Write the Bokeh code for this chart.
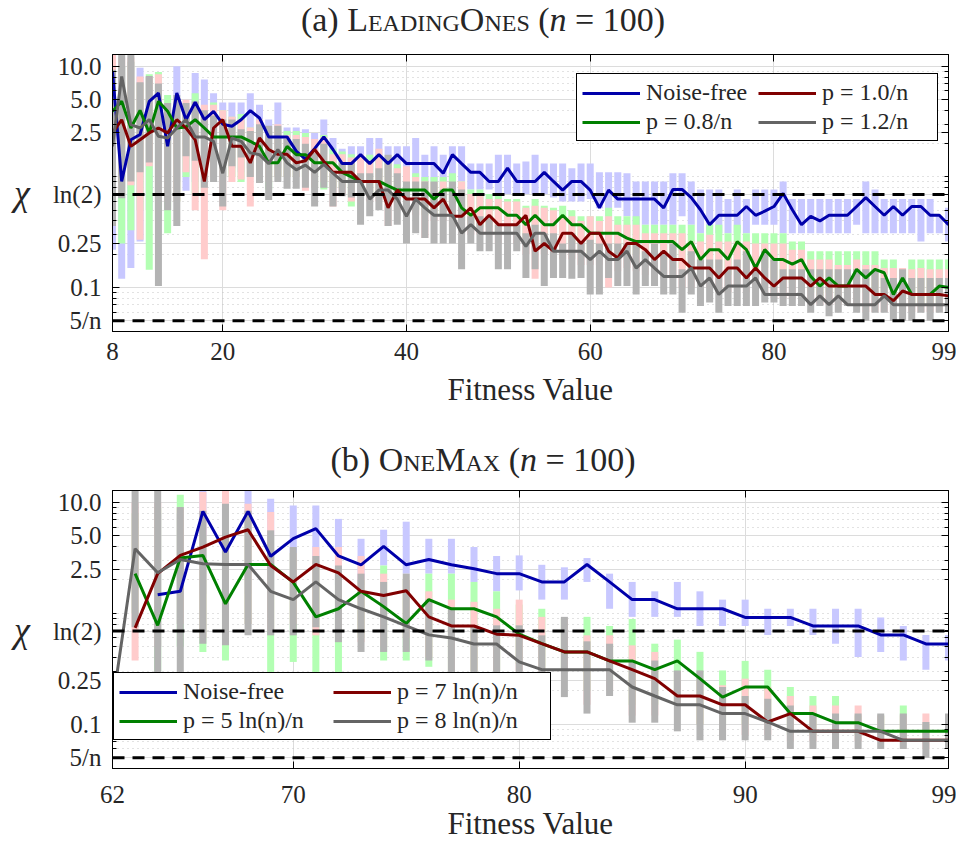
import math
from bokeh.plotting import figure
from bokeh.models import (FixedTicker, Range1d, Span, Legend, LegendItem, Div,
                          LogAxis, LinearAxis, CustomJSTickFormatter)
from bokeh.layouts import column
from bokeh.embed import file_html
from bokeh.resources import INLINE

FONT = "Liberation Serif"
TXT = "#262626"
NAN = float("nan")

# ---------------- shared y axis ----------------
Y_TICKS = [0.05, 0.1, 0.25, math.log(2), 2.5, 5.0, 10.0]
Y_TICK_LABELS = ["5/n", "0.1", "0.25", "ln(2)", "2.5", "5.0", "10.0"]
Y_MINOR = [0.06, 0.07, 0.08, 0.09, 0.2, 0.3, 0.4, 0.5, 0.6, 0.7, 0.8, 0.9,
           1, 2, 3, 4, 6, 7, 8, 9]

# ---------------- panel (a) LeadingOnes ----------------
fit_a = list(range(8, 100))
a_ticks = [8, 20, 40, 60, 80, 99]
a_labels = ["Noise-free", "p = 0.8/n", "p = 1.0/n", "p = 1.2/n"]

a_free = [9.0, 0.91,
          2.17, 2.42, 4.83, 5.74, 1.89, 5.74, 3.29, 4.73, 3.3, 3.92,
          3.0, 2.87, 3.29, 3.98, 3.41, 2.3, 2.3, 2.3, 1.71, 1.45,
          1.8, 2.3, 1.77, 1.32, 1.32, 1.59, 1.32, 1.59, 1.32, 1.59,
          1.32, 1.32, 1.32, 1.32, 1.08, 1.59, 1.32, 1.10, 1.10, 0.91,
          0.91, 1.2, 0.91, 0.91, 0.91, 1.10, 0.91, 0.76, 0.91, 0.91,
          0.76, 0.525, 0.76, 0.63, 0.63, 0.63, 0.63, 0.63, 0.525, 0.77,
          0.77, 0.65, 0.505, 0.37, 0.45, 0.45, 0.45, 0.54, 0.45, 0.49,
          0.54, 0.71, 0.505, 0.37, 0.44, 0.40, 0.45, 0.45, 0.45, 0.54,
          0.65, 0.54, 0.45, 0.54, 0.45, 0.54, 0.54, 0.45, 0.45, 0.37]
a_p08 = [3.92, 4.83,
         2.77, 4.0, 2.5, 4.83, 3.92, 2.77, 2.83, 3.3, 2.77, 2.3,
         2.3, 2.3, 2.3, 2.1, 1.89, 1.34, 1.34, 1.89, 1.59, 1.59,
         1.34, 1.34, 1.34, 1.10, 1.0, 0.91, 0.91, 0.91, 0.83, 0.76,
         0.76, 0.76, 0.76, 0.63, 0.76, 0.76, 0.525, 0.45, 0.525, 0.525,
         0.525, 0.45, 0.45, 0.37, 0.45, 0.37, 0.37, 0.45, 0.37, 0.37,
         0.31, 0.31, 0.31, 0.31, 0.28, 0.26, 0.26, 0.26, 0.26, 0.26,
         0.22, 0.26, 0.179, 0.22, 0.22, 0.179, 0.26, 0.22, 0.15, 0.22,
         0.179, 0.179, 0.163, 0.179, 0.126, 0.103, 0.122, 0.103, 0.103, 0.146,
         0.122, 0.146, 0.136, 0.0865, 0.122, 0.0865, 0.0865, 0.0865, 0.103, 0.1]
a_p10 = [2.5, 3.29,
         1.89, 2.17, 2.5, 2.77, 2.5, 3.29, 2.77, 2.17, 0.91, 2.77,
         3.29, 1.89, 1.89, 1.34, 2.25, 1.77, 1.6, 1.6, 1.34, 1.4,
         1.77, 1.38, 1.1, 1.1, 1.1, 0.91, 0.91, 0.91, 0.525, 0.76,
         0.63, 0.63, 0.63, 0.525, 0.63, 0.44, 0.44, 0.525, 0.37, 0.45,
         0.37, 0.37, 0.37, 0.45, 0.213, 0.25, 0.213, 0.31, 0.31, 0.25,
         0.31, 0.31, 0.213, 0.185, 0.25, 0.25, 0.22, 0.179, 0.213, 0.179,
         0.179, 0.15, 0.15, 0.15, 0.122, 0.15, 0.15, 0.122, 0.15, 0.122,
         0.103, 0.122, 0.122, 0.122, 0.103, 0.122, 0.103, 0.103, 0.103, 0.103,
         0.103, 0.0865, 0.0865, 0.076, 0.093, 0.0865, 0.0865, 0.0865, 0.0865, 0.084]
a_p12 = [1.89, 8.1,
         2.97, 2.77, 3.3, 2.33, 2.25, 2.77, 3.3, 2.3, 2.3, 2.1,
         1.08, 2.25, 2.1, 1.65, 1.59, 1.32, 1.77, 1.34, 1.16, 1.28,
         1.1, 1.30, 1.08, 0.91, 0.91, 0.91, 0.63, 0.76, 0.76, 0.63,
         0.44, 0.63, 0.525, 0.45, 0.45, 0.45, 0.31, 0.37, 0.31, 0.31,
         0.31, 0.31, 0.31, 0.236, 0.31, 0.31, 0.213, 0.213, 0.213, 0.213,
         0.179, 0.213, 0.179, 0.179, 0.213, 0.15, 0.179, 0.15, 0.126, 0.126,
         0.126, 0.15, 0.103, 0.122, 0.0865, 0.103, 0.103, 0.103, 0.122, 0.0865,
         0.0865, 0.0865, 0.0865, 0.0865, 0.070, 0.084, 0.070, 0.084, 0.070, 0.070,
         0.070, 0.070, 0.084, 0.070, 0.070, 0.070, 0.070, 0.070, 0.070, 0.070]

a_free_lo = [0.22, 0.12,
             0.15, 0.26, 0.5, 0.5, 0.6, 0.9, 0.75, 0.9, 0.9, 1.0,
             1.0, 1.2, 1.1, 1.2, 1.2, 1.3, 1.2, 1.6, 1.6, 1.3,
             1.4, 1.6, 1.3, 1.0, 1.0, 1.0, 1.0, 1.0, 1.0, 1.0,
             1.0, 1.0, 0.91, 0.91, 0.8, 0.91, 0.91, 0.77, 0.77, 0.77,
             0.7, 0.7, 0.7, 0.7, 0.7, 0.7, 0.65, 0.6, 0.6, 0.6,
             0.63, 0.52, 0.44, 0.525, 0.44, 0.37, 0.37, 0.37, 0.37, 0.37,
             0.44, 0.37, 0.31, 0.31, 0.31, 0.31, 0.31, 0.31, 0.37, 0.37,
             0.37, 0.31, 0.31, 0.31, 0.31, 0.31, 0.31, 0.31, 0.31, 0.37,
             0.31, 0.31, 0.31, 0.31, 0.31, 0.31, 0.26, 0.31, 0.31, 0.26]
a_free_hi = [8, 10,
             11, 9.7, 8, 6, 4, 10, 4, 8.7, 7.6, 5.7,
             4.7, 4.7, 4.7, 5.7, 4.5, 3.3, 4.7, 2.8, 2.8, 2.7,
             2.5, 3.3, 2.25, 1.8, 1.89, 1.89, 2.25, 2.25, 1.89, 1.89,
             1.89, 2.25, 1.59, 1.89, 1.59, 1.89, 1.89, 1.32, 1.32, 1.32,
             1.59, 1.59, 1.32, 1.38, 1.59, 1.32, 1.32, 1.32, 1.2, 1.32,
             1.32, 1.1, 1.1, 1.1, 1.08, 0.91, 0.91, 0.91, 0.91, 1.08,
             1.08, 0.91, 0.77, 0.77, 0.77, 0.63, 0.77, 0.63, 0.77, 0.77,
             0.77, 0.91, 0.63, 0.63, 0.63, 0.63, 0.63, 0.63, 0.63, 0.63,
             0.91, 0.77, 0.63, 0.63, 0.63, 0.63, 0.63, 0.63, 0.44, 0.525]
a_p08_lo = [0.4, 0.25,
            0.33, 0.5, 0.145, 0.4, 0.31, 0.6, 1.0, 0.7, 0.7, 1.0,
            1.0, 1.0, 0.9, 1.0, 1.0, 0.77, 1.0, 1.0, 1.0, 1.0,
            0.8, 0.77, 0.8, 0.8, 0.54, 0.7, 0.7, 0.7, 0.6, 0.6,
            0.5, 0.5, 0.45, 0.45, 0.45, 0.45, 0.4, 0.35, 0.35, 0.35,
            0.3, 0.3, 0.3, 0.28, 0.3, 0.25, 0.25, 0.25, 0.25, 0.22,
            0.2, 0.2, 0.2, 0.2, 0.2, 0.2, 0.18, 0.18, 0.18, 0.18,
            0.15, 0.18, 0.13, 0.15, 0.15, 0.13, 0.18, 0.15, 0.12, 0.15,
            0.12, 0.12, 0.11, 0.11, 0.09, 0.08, 0.09, 0.08, 0.08, 0.09,
            0.09, 0.09, 0.08, 0.07, 0.08, 0.07, 0.07, 0.07, 0.07, 0.07]
a_p08_hi = [8, 10,
            11, 7, 8.5, 8.9, 5.5, 5, 4, 5.7, 4, 4.7,
            4.0, 3.5, 3.7, 2.8, 3.3, 2.6, 2.8, 2.6, 2.6, 2.5,
            2.1, 2.4, 1.8, 1.7, 1.6, 1.5, 1.59, 1.5, 1.4, 1.3,
            1.2, 1.08, 1.0, 1.0, 1.0, 1.08, 0.91, 0.77, 0.77, 0.7,
            0.7, 0.63, 0.63, 0.55, 0.63, 0.55, 0.525, 0.55, 0.5, 0.44,
            0.44, 0.44, 0.525, 0.44, 0.44, 0.44, 0.37, 0.37, 0.37, 0.37,
            0.37, 0.37, 0.31, 0.37, 0.37, 0.31, 0.37, 0.31, 0.31, 0.31,
            0.31, 0.31, 0.26, 0.26, 0.213, 0.213, 0.213, 0.213, 0.213, 0.213,
            0.213, 0.213, 0.179, 0.179, 0.146, 0.179, 0.179, 0.179, 0.179, 0.179]
a_p10_lo = [0.5, 0.7,
            0.84, 0.27, 1.25, 0.6, 0.6, 0.6, 1.1, 0.5, 0.18, 1.0,
            0.5, 0.9, 0.95, 0.54, 1.0, 0.9, 1.0, 1.0, 1.0, 0.75,
            0.8, 0.9, 0.54, 0.7, 0.6, 0.6, 0.6, 0.6, 0.36, 0.5,
            0.5, 0.45, 0.28, 0.4, 0.4, 0.35, 0.3, 0.3, 0.3, 0.3,
            0.25, 0.25, 0.25, 0.2, 0.12, 0.2, 0.18, 0.18, 0.18, 0.16,
            0.16, 0.16, 0.1, 0.14, 0.15, 0.14, 0.13, 0.12, 0.12, 0.12,
            0.1, 0.1, 0.1, 0.1, 0.09, 0.09, 0.1, 0.09, 0.1, 0.09,
            0.08, 0.08, 0.08, 0.08, 0.07, 0.07, 0.07, 0.07, 0.07, 0.07,
            0.06, 0.06, 0.06, 0.06, 0.06, 0.06, 0.06, 0.06, 0.06, 0.06]
a_p10_hi = [13, 12,
            12, 8.1, 8, 8.5, 4, 5, 5.0, 4, 4.5, 4.5,
            4.0, 3.5, 3.3, 2.8, 3.3, 2.8, 3.0, 2.4, 2.4, 2.3,
            2.2, 2.3, 1.6, 1.6, 1.5, 1.59, 1.4, 1.8, 1.3, 1.2,
            1.25, 1.0, 0.91, 0.9, 0.91, 0.85, 0.91, 0.7, 0.7, 0.63,
            0.63, 0.6, 0.6, 0.525, 0.55, 0.525, 0.5, 0.44, 0.44, 0.4,
            0.44, 0.4, 0.44, 0.37, 0.37, 0.37, 0.31, 0.31, 0.31, 0.31,
            0.31, 0.26, 0.26, 0.3, 0.26, 0.26, 0.26, 0.26, 0.25, 0.25,
            0.25, 0.25, 0.22, 0.22, 0.179, 0.179, 0.179, 0.16, 0.16, 0.179,
            0.16, 0.16, 0.15, 0.15, 0.15, 0.146, 0.15, 0.146, 0.146, 0.146]
a_p12_lo = [0.36, 0.64,
            0.91, 1.1, 1.35, 0.103, 0.5, 0.36, 1.54, 1.4, 0.8, 0.9,
            0.54, 1.25, 1.5, 1.0, 0.88, 0.62, 0.9, 0.78, 0.78, 0.8,
            0.54, 0.8, 0.54, 0.67, 0.65, 0.37, 0.44, 0.5, 0.36, 0.37,
            0.25, 0.31, 0.28, 0.25, 0.25, 0.25, 0.146, 0.25, 0.213, 0.213,
            0.146, 0.146, 0.213, 0.122, 0.146, 0.103, 0.122, 0.122, 0.12, 0.122,
            0.0865, 0.0865, 0.122, 0.103, 0.103, 0.0865, 0.103, 0.103, 0.0865, 0.0865,
            0.059, 0.0865, 0.068, 0.073, 0.059, 0.068, 0.068, 0.068, 0.068, 0.073,
            0.073, 0.068, 0.068, 0.068, 0.059, 0.068, 0.055, 0.059, 0.068, 0.059,
            0.05, 0.059, 0.059, 0.05, 0.05, 0.05, 0.059, 0.05, 0.059, 0.059]
a_p12_hi = [9.3, 13,
            13, 7.2, 8.2, 7.0, 4.66, 5.5, 4.66, 4.8, 4.0, 3.6,
            3.3, 3.3, 2.7, 2.6, 3.0, 2.9, 2.9, 2.2, 2.2, 2.0,
            1.65, 2.0, 1.08, 1.34, 1.34, 1.08, 1.08, 1.2, 1.59, 1.08,
            0.91, 0.91, 0.91, 0.91, 0.77, 0.91, 0.77, 0.44, 0.44, 0.44,
            0.37, 0.37, 0.37, 0.31, 0.37, 0.31, 0.31, 0.25, 0.31, 0.26,
            0.27, 0.25, 0.25, 0.25, 0.25, 0.25, 0.213, 0.25, 0.213, 0.25,
            0.146, 0.213, 0.179, 0.179, 0.179, 0.146, 0.179, 0.213, 0.146, 0.213,
            0.179, 0.146, 0.146, 0.146, 0.146, 0.146, 0.146, 0.146, 0.146, 0.146,
            0.146, 0.146, 0.122, 0.122, 0.146, 0.122, 0.122, 0.122, 0.122, 0.122]

# ---------------- panel (b) OneMax ----------------
fit_b = list(range(62, 100))
b_ticks = [62, 70, 80, 90, 99]
b_labels = ["Noise-free", "p = 5 ln(n)/n", "p = 7 ln(n)/n", "p = 8 ln(n)/n"]

b_free = [NAN, NAN, 1.47, 1.58, 8.3, 3.57, 8.3, 3.27,
          4.71, 5.8, 3.29, 2.74, 4.02, 2.74, 3.06, 2.74, 2.52, 2.28,
          2.28, 1.92, 1.92, 2.76, 1.92, 1.33, 1.33, 1.10, 1.10, 1.10,
          0.92, 0.92, 0.92, 0.77, 0.77, 0.77, 0.64, 0.64, 0.53, 0.53]
b_p5 = [NAN, 2.28, 0.78, 3.15, 3.33, 1.22, 2.76, 2.76,
        1.9, 0.93, 1.10, 1.58, 1.15, 0.81, 1.33, 1.10, 1.10, 0.93,
        0.65, 0.533, 0.449, 0.449, 0.373, 0.373, 0.311, 0.373, 0.258, 0.176,
        0.217, 0.217, 0.125, 0.125, 0.1035, 0.1035, 0.0865, 0.0865, 0.0865, 0.0865]
b_p7 = [NAN, 0.74, 2.28, 3.33, 3.96, 4.87, 5.67, 2.7,
        1.92, 2.76, 2.32, 1.58, 1.45, 1.6, 0.93, 0.77, 0.77, 0.65,
        0.634, 0.533, 0.449, 0.449, 0.373, 0.311, 0.258, 0.18, 0.18, 0.15,
        0.15, 0.105, 0.125, 0.0865, 0.0865, 0.0865, 0.0718, 0.0718, 0.0718, 0.0718]
b_p8 = [0.15, 3.83, 2.32, 3.06, 2.8, 2.76, 2.76, 1.58,
        1.33, 1.92, 1.33, 1.10, 0.93, 0.77, 0.64, 0.6, 0.53, 0.53,
        0.365, 0.311, 0.311, 0.311, 0.311, 0.217, 0.18, 0.15, 0.15, 0.125,
        0.125, 0.105, 0.0865, 0.0865, 0.0865, 0.0865, 0.0865, 0.0718, 0.0718, 0.0718]

b_free_lo = [NAN, NAN, 0.5, 0.8, 1.5, 1.0, 1.5, 1.5,
             2.0, 2.0, 1.8, 1.8, 2.7, 2.28, 2.28, 2.28, 1.92, 1.58,
             1.61, 1.33, 1.33, 1.92, 1.10, 0.93, 0.93, 0.93, 0.77, 0.77,
             0.77, 0.64, 0.77, 0.64, 0.533, 0.405, 0.449, 0.376, 0.311, 0.376]
b_free_hi = [NAN, NAN, 8, 8, 12.8, 9, 12.8, 10.8,
             9.4, 9.4, 7.1, 4.7, 5.67, 6.7, 4.7, 4.7, 3.96, 3.29,
             3.33, 2.74, 2.6, 3.15, 2.28, 1.92, 1.58, 1.92, 1.58, 1.33,
             1.33, 1.10, 1.10, 1.10, 1.10, 1.10, 0.92, 0.77, 0.64, 0.64]
b_p5_lo = [NAN, 1.0, 0.3, 0.5, 0.449, 0.376, 0.8, 0.25,
           0.365, 0.28, 0.25, 0.6, 0.376, 0.376, 0.33, 0.3, 0.3, 0.3,
           0.35, 0.3, 0.3, 0.2, 0.25, 0.15, 0.15, 0.15, 0.1, 0.1,
           0.1, 0.1, 0.08, 0.08, 0.08, 0.08, 0.08, 0.08, 0.07, 0.07]
b_p5_hi = [NAN, 8, 9, 11.7, 5, 5, 7, 5,
           3.5, 3, 2.5, 2.0, 2.7, 2.0, 2.28, 2.28, 1.92, 1.58,
           1.2, 1.10, 0.9, 0.93, 0.77, 0.89, 0.533, 0.58, 0.45, 0.306,
           0.373, 0.311, 0.217, 0.18, 0.18, 0.12, 0.12, 0.148, 0.1, 0.12]
b_p7_lo = [NAN, 0.376, 0.5, 0.8, 0.6, 0.6, 0.8, 0.7,
           0.8, 0.634, 0.6, 0.55, 0.5, 0.6, 0.4, 0.3, 0.3, 0.3,
           0.3, 0.2, 0.3, 0.15, 0.2, 0.12, 0.12, 0.15, 0.1, 0.08,
           0.08, 0.08, 0.07, 0.07, 0.07, 0.07, 0.07, 0.07, 0.06, 0.07]
b_p7_hi = [NAN, 10, 10, 9, 12.4, 12.8, 9.7, 8.2,
           3.5, 3.96, 3.96, 3.29, 2.28, 2.0, 1.58, 1.33, 1.27, 1.10,
           1.33, 0.93, 0.9, 0.634, 0.634, 0.515, 0.449, 0.3, 0.25, 0.225,
           0.258, 0.217, 0.18, 0.148, 0.148, 0.148, 0.12, 0.12, 0.125, 0.12]
b_p8_lo = [NAN, 0.75, 0.2, 0.22, 0.533, 0.515, 0.634, 0.634,
           0.634, 0.75, 0.55, 0.449, 0.449, 0.449, 0.376, 0.25, 0.25, 0.25,
           0.25, 0.176, 0.176, 0.125, 0.18, 0.1035, 0.1035, 0.0865, 0.0718, 0.0718,
           0.0718, 0.0718, 0.06, 0.06, 0.06, 0.06, 0.06, 0.06, 0.05, 0.06]
b_p8_hi = [NAN, 13, 13, 9.1, 8.4, 9.7, 8.4, 5.6,
           3.96, 3.29, 2.7, 2.28, 1.92, 2.28, 1.33, 1.10, 0.78, 0.78,
           0.78, 0.634, 0.93, 0.56, 0.533, 0.376, 0.376, 0.306, 0.306, 0.217,
           0.18, 0.17, 0.148, 0.125, 0.125, 0.125, 0.125, 0.125, 0.105, 0.125]

LINE_COLORS = ["#0000aa", "#008000", "#800000", "#646464"]
BAR_COLORS = ["#c8c8ff", "#b3ffb3", "#ffcccc", "#b3b3b3"]


def y_formatter():
    return CustomJSTickFormatter(
        args=dict(tvals=Y_TICKS, tlabels=Y_TICK_LABELS),
        code="""
        for (let i = 0; i < tvals.length; i++) {
            if (Math.abs(tick - tvals[i]) < 1e-6 * tvals[i]) { return tlabels[i]; }
        }
        return "";
        """)


def panel(x, lines, bars, xr, x_ticks, labels, leg_loc, leg_label_w,
          min_top, min_bottom, frame_h, label_standoff, axis_label_standoff):
    p = figure(frame_width=836, frame_height=frame_h,
               x_range=Range1d(*xr), y_range=Range1d(0.04, 12.8),
               y_axis_type="log", output_backend="svg", toolbar_location=None,
               min_border_left=112, min_border_right=8,
               min_border_top=min_top, min_border_bottom=min_bottom)
    p.background_fill_color = "white"
    p.border_fill_color = "white"
    p.outline_line_color = "black"
    p.outline_line_width = 1

    yt = FixedTicker(ticks=Y_TICKS, minor_ticks=Y_MINOR)
    xt = FixedTicker(ticks=x_ticks)

    yax = p.yaxis[0]
    yax.ticker = yt
    yax.formatter = y_formatter()
    yax.major_label_text_font = FONT
    yax.major_label_text_font_size = "25px"
    yax.major_label_text_color = TXT
    yax.major_label_standoff = 11
    yax.major_tick_in = 7
    yax.major_tick_out = 0
    yax.minor_tick_in = 4
    yax.minor_tick_out = 0
    yax.axis_line_color = "black"
    yax.axis_label = "χ"
    yax.axis_label_text_font = FONT
    yax.axis_label_text_font_size = "36px"
    yax.axis_label_text_color = TXT
    yax.axis_label_standoff = 20
    try:
        yax.axis_label_orientation = "horizontal"
    except Exception:
        pass

    xax = p.xaxis[0]
    xax.ticker = xt
    xax.major_label_text_font = FONT
    xax.major_label_text_font_size = "25px"
    xax.major_label_text_color = TXT
    xax.major_label_standoff = label_standoff
    xax.major_tick_in = 7
    xax.major_tick_out = 0
    xax.minor_tick_line_color = None
    xax.axis_line_color = "black"
    xax.axis_label = "Fitness Value"
    xax.axis_label_text_font = FONT
    xax.axis_label_text_font_size = "31px"
    xax.axis_label_text_font_style = "normal"
    xax.axis_label_text_color = TXT
    xax.axis_label_standoff = axis_label_standoff

    top = LinearAxis(ticker=xt, major_label_text_font_size="0px",
                     major_label_text_color=None,
                     major_label_standoff=0, major_tick_in=7, major_tick_out=0,
                     minor_tick_line_color=None, axis_line_color="black")
    p.add_layout(top, "above")
    right = LogAxis(ticker=yt, major_label_text_font_size="0px",
                    major_label_text_color=None,
                    major_label_standoff=0, major_tick_in=7, major_tick_out=0,
                    minor_tick_in=4, minor_tick_out=0, axis_line_color="black")
    p.add_layout(right, "right")

    p.xgrid.ticker = xt
    p.ygrid.ticker = yt
    p.xgrid.grid_line_color = "#dcdcdc"
    p.ygrid.grid_line_color = "#dcdcdc"
    p.ygrid.minor_grid_line_color = "#c4c4c4"
    p.ygrid.minor_grid_line_dash = "1 4"

    for (lo, hi), col in zip(bars, BAR_COLORS):
        xs, l, h = [], [], []
        for xi, a, b in zip(x, lo, hi):
            if not (math.isnan(a) or math.isnan(b)):
                xs.append(xi)
                l.append(a)
                h.append(b)
        p.segment(x0=xs, y0=l, x1=xs, y1=h, line_color=col, line_width=7)

    rs = []
    for y, col in zip(lines, LINE_COLORS):
        rs.append(p.line(x, y, line_color=col, line_width=3))

    for loc in [math.log(2), 0.05]:
        p.add_layout(Span(location=loc, dimension="width", line_color="black",
                          line_width=3, line_dash="12 8"))

    items = [LegendItem(label=labels[i], renderers=[rs[i]]) for i in range(4)]
    leg = Legend(items=items, location=leg_loc, ncols=2,
                 label_text_font=FONT, label_text_font_size="24px",
                 label_text_color=TXT,
                 glyph_width=58, glyph_height=26, label_height=26,
                 label_standoff=6, label_width=leg_label_w,
                 spacing=2, padding=5, margin=0,
                 border_line_color="black", border_line_width=1,
                 border_line_alpha=1,
                 background_fill_color="white", background_fill_alpha=1)
    p.add_layout(leg, "center")
    return p


def title_div(html, height, pad_top):
    return Div(text=(
        '<div style="font-family:\'Liberation Serif\',serif;font-size:34px;'
        'line-height:30px;text-align:center;color:#262626;'
        'width:934px;padding-left:22px;padding-top:%dpx;">%s</div>' % (pad_top, html)),
        width=956, height=height)


div_a = title_div('(a) <span style="font-variant:small-caps">LeadingOnes</span> (<i>n</i> = 100)', 37, 0)
fig_a = panel(fit_a, [a_free, a_p08, a_p10, a_p12],
              [(a_free_lo, a_free_hi), (a_p08_lo, a_p08_hi),
               (a_p10_lo, a_p10_hi), (a_p12_lo, a_p12_hi)],
              (8, 99), a_ticks, a_labels, (464, 190), 110,
              7, 88, 277, 11, 9)

div_b = title_div('(b) <span style="font-variant:small-caps">OneMax</span> (<i>n</i> = 100)', 51, 21)
fig_b = panel(fit_b, [b_free, b_p5, b_p7, b_p8],
              [(b_free_lo, b_free_hi), (b_p5_lo, b_p5_hi),
               (b_p7_lo, b_p7_hi), (b_p8_lo, b_p8_hi)],
              (62, 99), b_ticks, b_labels, (1, 28), 148,
              10, 66, 278, 17, 0)

layout = column(div_a, fig_a, div_b, fig_b)
open("out.html", "w").write(file_html(layout, INLINE, "chart"))
